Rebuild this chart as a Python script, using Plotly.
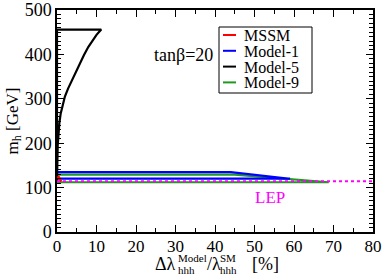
import plotly.graph_objects as go

# ---- data ----
mssm_x = [1.0, 0.6, 0.2]
mssm_y = [113, 119, 126]

model1_x = [0, 44, 59, 0]
model1_y = [135, 135, 120, 120]

model5_x = [0, 11.2, 10.0, 9.0, 7.95, 6.8, 5.8, 4.7, 3.7, 2.8, 2.0, 1.4, 0.94,
            0.6, 0.33, 0.18, 0.1, 0.05, 0, 0]
model5_y = [456, 456, 444, 432, 417, 398, 380, 361, 342, 323, 305, 286, 267,
            245, 222, 195, 160, 135, 115, 456]

model9_x = [0, 45, 68.8, 0]
model9_y = [129, 129, 112, 112]

lep_x = [0, 80]
lep_y = [114.4, 114.4]

x_ticks = [0, 10, 20, 30, 40, 50, 60, 70, 80]
y_ticks = [0, 100, 200, 300, 400, 500]

legend_names = ["MSSM", "Model-1", "Model-5", "Model-9"]
legend_colors = ["#ff0000", "#0000ff", "black", "#1f9a1f"]

FONT = "Liberation Serif"

fig = go.Figure()
fig.add_trace(go.Scatter(x=model9_x, y=model9_y, mode="lines", name="Model-9",
                         line=dict(color="#1f9a1f", width=2.2), showlegend=False))
fig.add_trace(go.Scatter(x=model1_x, y=model1_y, mode="lines", name="Model-1",
                         line=dict(color="#0000ff", width=2.2), showlegend=False))
fig.add_trace(go.Scatter(x=model5_x, y=model5_y, mode="lines", name="Model-5",
                         line=dict(color="black", width=2.2), showlegend=False))
fig.add_trace(go.Scatter(x=mssm_x, y=mssm_y, mode="lines", name="MSSM",
                         line=dict(color="#ff0000", width=3), showlegend=False))
fig.add_trace(go.Scatter(x=lep_x, y=lep_y, mode="lines", name="LEP", showlegend=False,
                         line=dict(color="#ff00ff", width=2, dash="dot")))

W, H = 382, 275
L, R, T, B = 57, 9, 10, 43
pw, ph = W - L - R, H - T - B


def px(x):
    return (x - L) / pw


def py(y):
    return (H - B - y) / ph


ann = []
shapes = []
ann.append(dict(text="tanβ=20", x=px(183), y=py(55), xanchor="center",
                font=dict(size=18, color="black", family=FONT)))
ann.append(dict(text="LEP", x=px(270), y=py(197), xanchor="center",
                font=dict(size=17, color="#ff00ff", family=FONT)))

# manual legend
shapes.append(dict(type="rect", xref="paper", yref="paper",
                   x0=px(219), x1=px(312), y0=py(27), y1=py(93),
                   line=dict(color="black", width=1), fillcolor="white", layer="above"))
for i, (nm, col) in enumerate(zip(legend_names, legend_colors)):
    yy = 35 + i * 15.8
    shapes.append(dict(type="line", xref="paper", yref="paper",
                       x0=px(223), x1=px(236), y0=py(yy), y1=py(yy),
                       line=dict(color=col, width=2), layer="above"))
    ann.append(dict(text=nm, x=px(242), y=py(yy + 0.5), xanchor="left",
                    font=dict(size=16, family=FONT, color="black")))

# x axis title pieces
big = dict(size=18, family=FONT, color="black")
small = dict(size=11, family=FONT, color="black")
ann += [
    dict(text="Δλ", x=px(153), y=py(264), xanchor="left", font=big),
    dict(text="Model", x=px(176), y=py(257.5), xanchor="left", font=small),
    dict(text="hhh", x=px(176), y=py(270), xanchor="left", font=small),
    dict(text="/λ", x=px(205), y=py(264), xanchor="left", font=big),
    dict(text="SM", x=px(218), y=py(257.5), xanchor="left", font=small),
    dict(text="hhh", x=px(218), y=py(270), xanchor="left", font=small),
    dict(text="[%]", x=px(250), y=py(264), xanchor="left", font=big),
]
for a in ann:
    a.update(xref="paper", yref="paper", showarrow=False, yanchor="middle")

fig.update_layout(
    width=W, height=H,
    margin=dict(l=L, r=R, t=T, b=B, autoexpand=False),
    paper_bgcolor="white", plot_bgcolor="white",
    font=dict(family=FONT, size=17, color="black"),
    annotations=ann, shapes=shapes,
    showlegend=False,
)
fig.update_xaxes(range=[0, 80], tickvals=x_ticks, ticktext=[str(v) for v in x_ticks],
                 ticks="inside", ticklen=7, tickwidth=1, tickcolor="black",
                 minor=dict(dtick=5, ticks="inside", ticklen=4, tickcolor="black"),
                 showline=True, linecolor="black", linewidth=1.5, mirror="allticks",
                 showgrid=False, zeroline=False, automargin=False,
                 ticklabelstandoff=-2,
                 tickfont=dict(size=17, family=FONT, color="black"))
fig.update_yaxes(range=[0, 500], tickvals=y_ticks, ticktext=[str(v) for v in y_ticks],
                 ticks="inside", ticklen=7, tickwidth=1, tickcolor="black",
                 minor=dict(dtick=10, ticks="inside", ticklen=4, tickcolor="black"),
                 showline=True, linecolor="black", linewidth=1.5, mirror="allticks",
                 showgrid=False, zeroline=False, automargin=False,
                 tickfont=dict(size=18, family=FONT, color="black"),
                 title=dict(text="m<sub>h</sub> [GeV]", standoff=2,
                            font=dict(size=17, family=FONT, color="black")))
fig.write_html("out.html", config={"displayModeBar": False},
               post_script="document.body.style.margin='0';")
